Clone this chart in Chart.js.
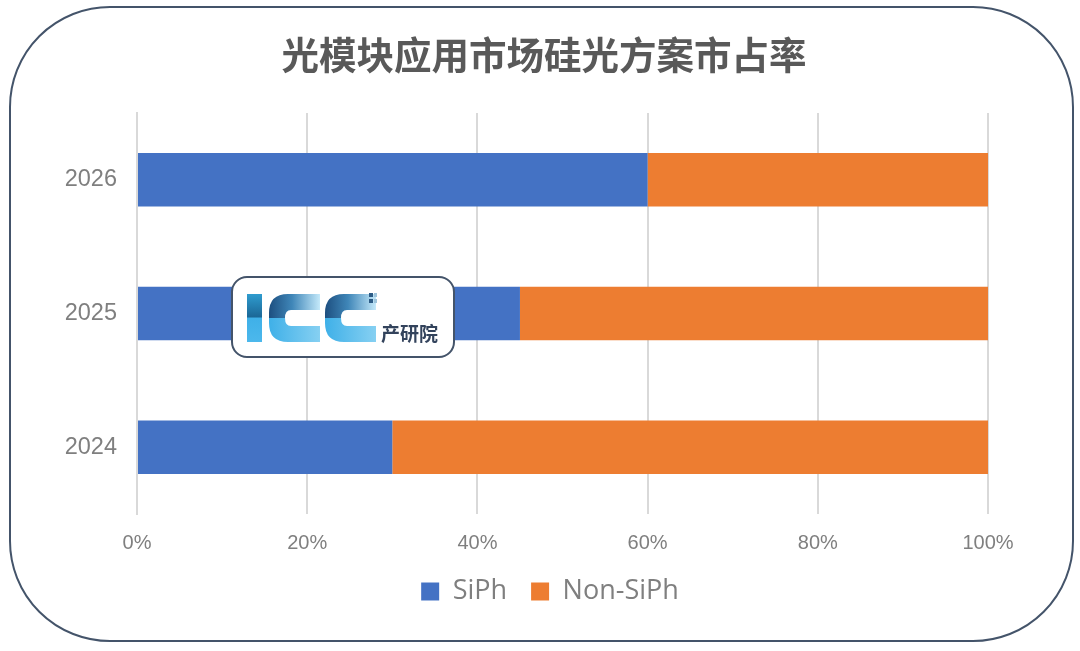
<!DOCTYPE html>
<html>
<head>
<meta charset="utf-8">
<style>
  html, body { margin: 0; padding: 0; background: #fff; overflow: hidden; }
  canvas { display: block; }
</style>
<script src="https://cdn.jsdelivr.net/npm/chart.js@4"></script>
</head>
<body>
<canvas id="myChart" width="1080" height="651"></canvas>
<script>
var chartTitle = "光模块应用市场硅光方案市占率";
var years = ["2026", "2025", "2024"];
var siph = [60, 45, 30];
var nonSiph = [40, 55, 70];
var xTicks = [0, 20, 40, 60, 80, 100];

function roundRect(ctx, x, y, w, h, r) {
  ctx.beginPath();
  ctx.roundRect(x, y, w, h, r);
}

// C shape of the logo, top half and bottom half get their own gradient
function drawLogoC(ctx, x) {
  var top = 294, mid = 318, bottom = 342, w = 51, t = 16, r = 19;
  var g1 = ctx.createLinearGradient(x, 0, x + w, 0);
  g1.addColorStop(0, "#1d4f80");
  g1.addColorStop(0.45, "#3f86b8");
  g1.addColorStop(1, "#c4e9fa");
  ctx.fillStyle = g1;
  ctx.beginPath();
  ctx.moveTo(x, mid);
  ctx.lineTo(x, top + r);
  ctx.quadraticCurveTo(x, top, x + r, top);
  ctx.lineTo(x + w, top);
  ctx.lineTo(x + w, top + t);
  ctx.lineTo(x + r + 3, top + t);
  ctx.quadraticCurveTo(x + t, top + t, x + t, mid);
  ctx.closePath();
  ctx.fill();

  var g2 = ctx.createLinearGradient(x, 0, x + w, 0);
  g2.addColorStop(0, "#3fb0e8");
  g2.addColorStop(1, "#86d0f2");
  ctx.fillStyle = g2;
  ctx.beginPath();
  ctx.moveTo(x, mid);
  ctx.lineTo(x, bottom - r);
  ctx.quadraticCurveTo(x, bottom, x + r, bottom);
  ctx.lineTo(x + w, bottom);
  ctx.lineTo(x + w, bottom - t);
  ctx.lineTo(x + r + 3, bottom - t);
  ctx.quadraticCurveTo(x + t, bottom - t, x + t, mid);
  ctx.closePath();
  ctx.fill();
}

var framePlugin = {
  id: "frame",
  afterLayout: function (chart) {
    // layout padding pulls title and legend left, push them back
    chart.titleBlock.left += 50;
    chart.titleBlock.right += 50;
    chart.legend.left += 56;
    chart.legend.right += 56;
  },
  beforeDraw: function (chart) {
    var ctx = chart.ctx;
    ctx.save();
    ctx.fillStyle = "#fff";
    ctx.fillRect(0, 0, 1080, 651);
    roundRect(ctx, 10, 7, 1063, 634, 100);
    ctx.strokeStyle = "#44546a";
    ctx.lineWidth = 2;
    ctx.stroke();
    ctx.restore();
  },
  afterDraw: function (chart) {
    var ctx = chart.ctx;
    ctx.save();
    roundRect(ctx, 232, 277, 222, 80, 15);
    ctx.fillStyle = "#fff";
    ctx.fill();
    ctx.strokeStyle = "#44546a";
    ctx.lineWidth = 2;
    ctx.stroke();

    // I
    var g = ctx.createLinearGradient(0, 294, 0, 342);
    g.addColorStop(0, "#2f9ccf");
    g.addColorStop(0.48, "#1b6796");
    g.addColorStop(0.5, "#3fb0e8");
    g.addColorStop(1, "#4cb8ec");
    ctx.fillStyle = g;
    ctx.fillRect(247, 294, 15, 48);

    drawLogoC(ctx, 269);
    drawLogoC(ctx, 325);

    // little dots next to the second C
    ctx.fillStyle = "#2d5c86";
    ctx.fillRect(369, 293, 4, 4);
    ctx.fillRect(369, 299, 4, 4);
    ctx.fillStyle = "#9fc5dc";
    ctx.fillRect(374, 293, 3, 4);
    ctx.fillRect(374, 299, 3, 4);

    ctx.fillStyle = "#33435c";
    ctx.font = "bold 19px 'Noto Sans CJK SC'";
    ctx.textAlign = "left";
    ctx.textBaseline = "middle";
    ctx.fillText("产研院", 381, 334);
    ctx.restore();
  },
};

var ctx = document.getElementById("myChart").getContext("2d");
var myChart = new Chart(ctx, {
  type: "bar",
  data: {
    labels: years,
    datasets: [
      { label: "SiPh", data: siph, backgroundColor: "#4472c4" },
      { label: "Non-SiPh", data: nonSiph, backgroundColor: "#ed7d31" },
    ],
  },
  options: {
    indexAxis: "y",
    responsive: false,
    devicePixelRatio: 1,
    animation: false,
    layout: { padding: { left: 0, right: 92, top: 0, bottom: 36 } },
    datasets: { bar: { barPercentage: 0.4, categoryPercentage: 1 } },
    scales: {
      x: {
        stacked: true,
        min: 0,
        max: 100,
        afterBuildTicks: function (axis) {
          axis.ticks = xTicks.map(function (v) { return { value: v }; });
        },
        afterFit: function (axis) { axis.height = 40; },
        grid: { color: "#d9d9d9", lineWidth: 2, drawTicks: false },
        border: { display: false },
        ticks: {
          color: "#7f7f7f",
          padding: 17,
          maxRotation: 0,
          font: { family: "Liberation Sans", size: 20 },
          callback: function (v) { return v + "%"; },
        },
      },
      y: {
        stacked: true,
        afterFit: function (axis) { axis.width = 137; },
        grid: { display: false, drawTicks: false },
        border: { color: "#d9d9d9", width: 2 },
        ticks: {
          color: "#7f7f7f",
          padding: 20,
          font: { family: "Liberation Sans", size: 23.5 },
        },
      },
    },
    plugins: {
      tooltip: { enabled: false },
      title: {
        display: true,
        text: chartTitle,
        color: "#595959",
        font: { family: "Noto Sans CJK SC", size: 37.5, weight: "bold" },
        padding: { top: 32, bottom: 36 },
      },
      legend: {
        position: "bottom",
        labels: {
          color: "#7f7f7f",
          boxWidth: 18,
          boxHeight: 18,
          padding: 24,
          font: { family: "Open Sans", size: 27 },
        },
      },
    },
  },
  plugins: [framePlugin],
});
</script>
</body>
</html>
